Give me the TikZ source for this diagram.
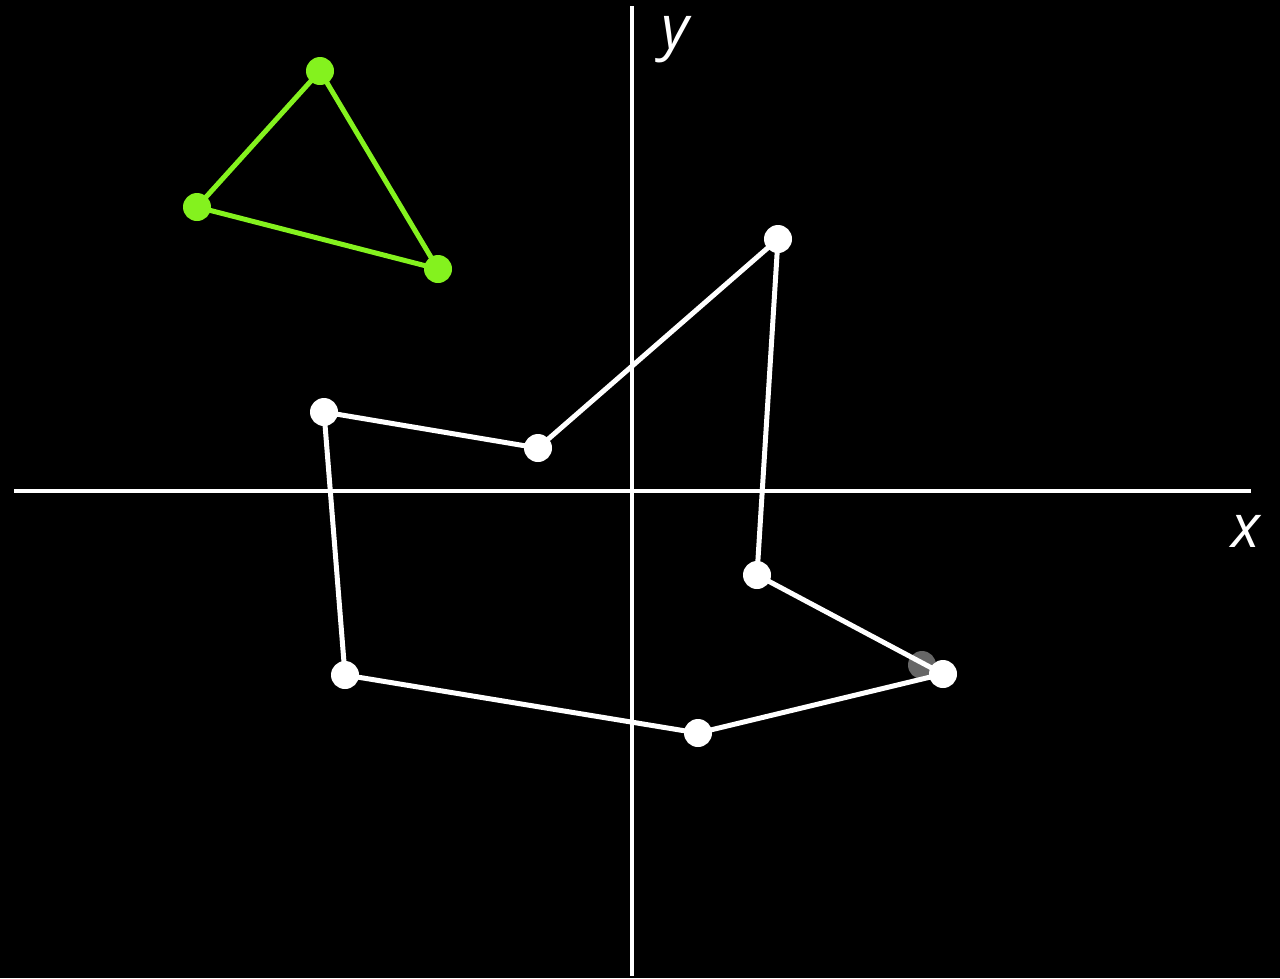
\documentclass[tikz,border=0pt]{standalone}
\usepackage{fontspec}
\setmainfont{Open Sans}
\begin{document}
\begin{tikzpicture}[x=1pt,y=-1pt,
  axis/.style={draw=white,line width=4pt},
  wline/.style={draw=white,line width=5pt},
  gline/.style={draw=lime,line width=5pt},
  wdot/.style={circle,fill=white,minimum size=28pt,inner sep=0pt},
  gdot/.style={circle,fill=lime,minimum size=28pt,inner sep=0pt},
  grdot/.style={circle,fill=gray6,minimum size=28pt,inner sep=0pt},
  lbl/.style={text=white,font=\fontsize{60}{62}\selectfont\itshape,inner sep=0pt}]
\definecolor{lime}{HTML}{84F21E}
\definecolor{gray6}{HTML}{666666}
\fill[black] (0,0) rectangle (1280,978);
\useasboundingbox (0,0) rectangle (1280,978);
% axes
\coordinate (xl) at (14,491);
\coordinate (xr) at (1251,491);
\coordinate (yt) at (632,6);
\coordinate (yb) at (632,976);
\draw[axis] (xl) -- (xr);
\draw[axis] (yt) -- (yb);
\node[lbl] (ylab) at (675,40) {y};
\node[lbl] (xlab) at (1246,531) {x};
% grey dot
\node[grdot] (gr) at (922,665) {};
% coordinates
\coordinate (p1) at (324,412);
\coordinate (p2) at (538,448);
\coordinate (p3) at (778,239);
\coordinate (p4) at (757,575);
\coordinate (p5) at (943,674);
\coordinate (p6) at (698,733);
\coordinate (p7) at (345,675);
\coordinate (t1) at (320,71);
\coordinate (t2) at (197,207);
\coordinate (t3) at (438,269);
\draw[wline,line join=round] (p1) -- (p2) -- (p3) -- (p4) -- (p5) -- (p6) -- (p7) -- cycle;
\draw[gline,line join=round] (t1) -- (t2) -- (t3) -- cycle;
\foreach \p in {p1,p2,p3,p4,p5,p6,p7} \node[wdot] (d\p) at (\p) {};
\foreach \p in {t1,t2,t3} \node[gdot] (d\p) at (\p) {};
\end{tikzpicture}
\end{document}
